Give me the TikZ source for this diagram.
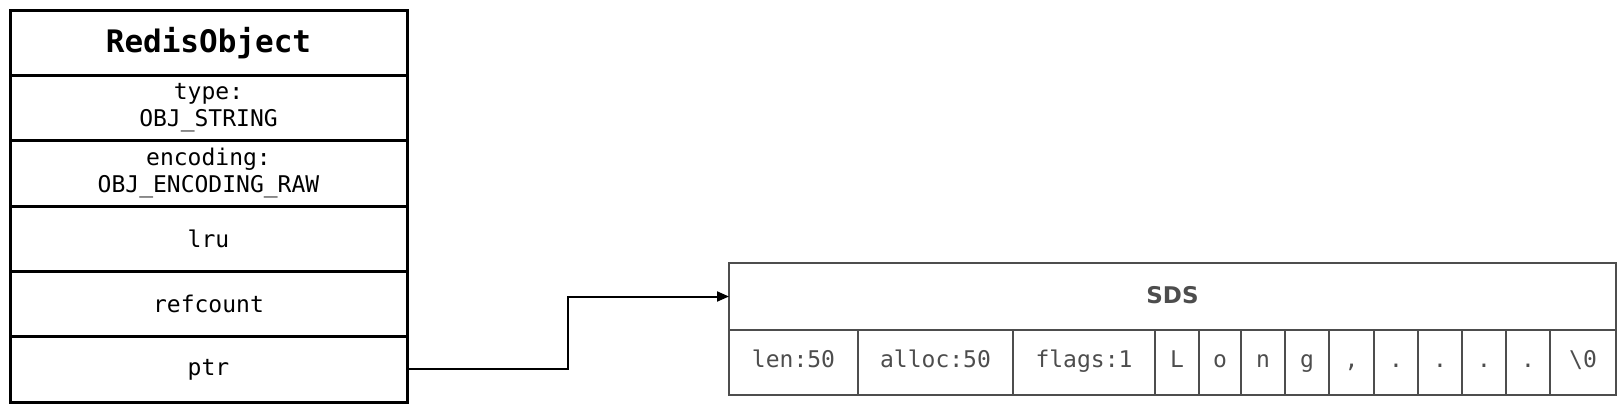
\documentclass[tikz,border=0pt]{standalone}
\usepackage{fontspec}
\setmonofont{DejaVu Sans Mono}
\newfontfamily\sdsfont{DejaVu Sans}
\usepackage{xcolor}
\usepackage{tikz}
\usetikzlibrary{positioning,arrows.meta}
\definecolor{sdsgray}{HTML}{4D4D4D}

\begin{document}
\begin{tikzpicture}[x=0.5pt,y=-0.5pt,
        node distance=0pt,
        field/.style={rectangle,draw,line width=1.5pt,outer sep=0pt,inner sep=0pt,align=center,font=\ttfamily\fontsize{11.5}{13.5}\selectfont,minimum width=198.5pt,minimum height=32.67pt},
        cell/.style={rectangle,draw=sdsgray,line width=1pt,outer sep=0pt,inner sep=0pt,text=sdsgray,font=\ttfamily\fontsize{11.5}{14}\selectfont,text height=1.6ex,text depth=0.4ex,minimum height=32.5pt},
        arrow/.style={-{Triangle[length=6pt,width=5pt]},line width=1pt}]
        \useasboundingbox (0,0) rectangle (1624,403);
        \node[field,anchor=north west,font=\ttfamily\bfseries\fontsize{15.5}{18}\selectfont] (robj) at (10,10) {RedisObject};
        \node[field,below=of robj] (type) {type:\\OBJ\_STRING};
        \node[field,below=of type] (enc) {encoding:\\OBJ\_ENCODING\_RAW};
        \node[field,below=of enc] (lru) {lru};
        \node[field,below=of lru] (refc) {refcount};
        \node[field,below=of refc] (ptr) {ptr};
        \node[cell,anchor=north west,minimum width=443.5pt,minimum height=33.5pt,text depth=0pt,font=\sdsfont\bfseries\fontsize{11.5}{13}\selectfont] (sds) at (729,263) {SDS};
        \node[cell,anchor=north west,minimum width=64.5pt] (clen) at (sds.south west) {len:50};
        \node[cell,right=of clen,minimum width=77.5pt] (calloc) {alloc:50};
        \node[cell,right=of calloc,minimum width=71pt] (cflags) {flags:1};
        \node[cell,right=of cflags,minimum width=22pt] (c1) {L};
        \node[cell,right=of c1,minimum width=21pt] (c2) {o};
        \node[cell,right=of c2,minimum width=22pt] (c3) {n};
        \node[cell,right=of c3,minimum width=22pt] (c4) {g};
        \node[cell,right=of c4,minimum width=22.5pt] (c5) {,};
        \node[cell,right=of c5,minimum width=22pt] (c6) {.};
        \node[cell,right=of c6,minimum width=22pt] (c7) {.};
        \node[cell,right=of c7,minimum width=22pt] (c8) {.};
        \node[cell,right=of c8,minimum width=22pt] (c9) {.};
        \node[cell,right=of c9,minimum width=33pt] (cend) {\textbackslash0};
        \draw[arrow] (ptr.east) -| ([xshift=-80.5pt]sds.west) -- (sds.west);
    \end{tikzpicture}
\end{document}
